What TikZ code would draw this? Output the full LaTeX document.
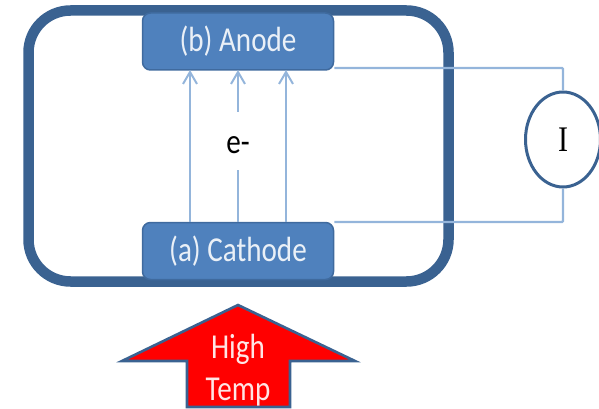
\documentclass[tikz,border=0pt]{standalone}
\usepackage{graphicx}
\usepackage{fontspec}
\setmainfont{Carlito}
\newfontfamily\serifx{Liberation Serif}
\usetikzlibrary{arrows.meta,shapes.geometric,calc}
\definecolor{framec}{HTML}{3A6291}
\definecolor{boxc}{HTML}{4F81BD}
\definecolor{boxedge}{HTML}{3F6A9E}
\definecolor{wirec}{HTML}{94B5DB}
\newcommand{\tallstretch}[1]{\scalebox{1.04}[1.25]{#1}}
\tikzset{
  x=1pt,y=-1pt,
  electrode/.style={draw=boxedge,line width=1.5pt,fill=boxc,rounded corners=8pt,minimum width=191pt,minimum height=57pt,inner sep=0pt,text=white!88!boxc,font=\fontsize{28}{28}\selectfont},
  wire/.style={draw=wirec,line width=2.4pt},
  flow/.style={wire,-{Straight Barb[length=12pt,width=14pt,line width=2pt]}},
  meter/.style={ellipse,draw=framec,line width=3pt,fill=white,minimum width=75pt,minimum height=95pt,inner sep=0pt},
}
\begin{document}
\begin{tikzpicture}
\useasboundingbox (0,0) rectangle (599,409);
% outer frame
\draw[framec,line width=10.5pt,rounded corners=42pt] (28.5,10.5) rectangle (448.5,281.5);
% electrodes
\node[electrode] (anode) at (238,41.5) {\tallstretch{(b) Anode}};
\node[electrode] (cathode) at (238,251) {\tallstretch{(a) Cathode}};
% meter
\node[meter] (meter) at (563,139.5) {\serifx\fontsize{30}{30}\selectfont\scalebox{1}[1.2]{I}};
% wires
\draw[wire,rounded corners=1pt] (anode.east |- 0,68) coordinate (at) -- (at -| meter.north) -- (meter.north);
\draw[wire,rounded corners=1pt] (cathode.east |- 0,222) coordinate (ct) -- (ct -| meter.south) -- (meter.south);
% flows
\coordinate (c1) at (190,222); \coordinate (a1) at (190,70);
\coordinate (c2) at (238,222); \coordinate (g2) at (238,170);
\coordinate (h2) at (238,112); \coordinate (a2) at (238,70);
\coordinate (c3) at (286,222); \coordinate (a3) at (286,70);
\draw[flow] (c1) -- (a1);
\draw[wire] (c2) -- (g2);
\draw[flow] (h2) -- (a2);
\draw[flow] (c3) -- (a3);
\node[font=\fontsize{28}{28}\selectfont,text=black] (elabel) at (238,145) {\tallstretch{e-}};
% high temp arrow
\draw[draw=framec,line width=2.6pt,fill=red,line join=miter]
  (238,305) -- (122,361) -- (187,361) -- (187,407) -- (290,407) -- (290,361) -- (355,361) -- cycle;
\node[text=white!90!red,font=\fontsize{28}{28}\selectfont,inner sep=0pt] (high) at (238,349) {\tallstretch{High}};
\node[text=white!90!red,font=\fontsize{28}{28}\selectfont,inner sep=0pt] (temp) at (238,392) {\tallstretch{Temp}};
\end{tikzpicture}
\end{document}
